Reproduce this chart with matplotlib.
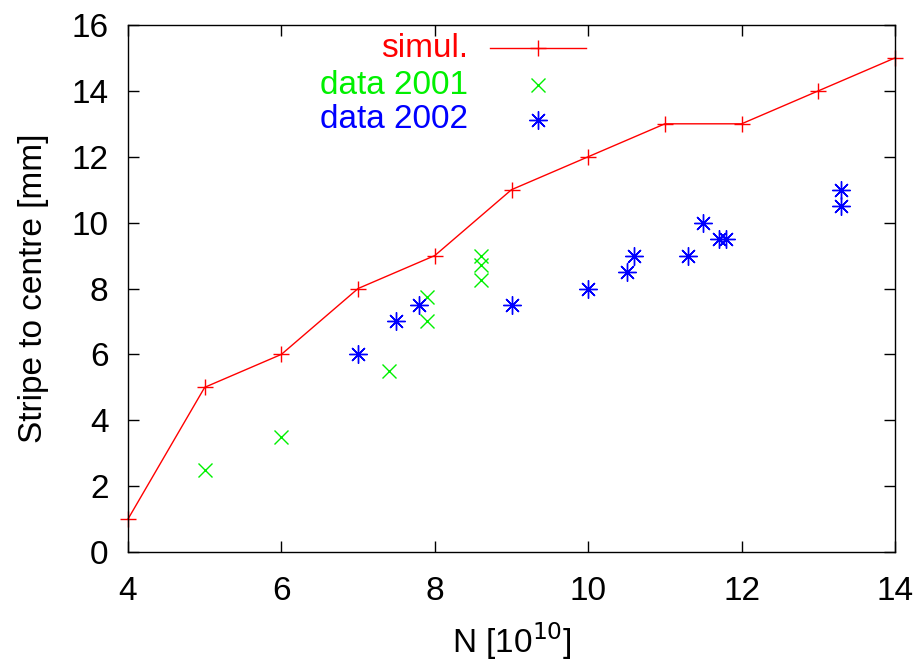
import matplotlib
matplotlib.use("Agg")
import matplotlib.pyplot as plt
from matplotlib.lines import Line2D

plt.rcParams['font.family'] = ['Liberation Sans', 'DejaVu Sans']

sim_x = [4, 5, 6, 7, 8, 9, 10, 11, 12, 13, 14]
sim_y = [1, 5, 6, 8, 9, 11, 12, 13, 13, 14, 15]

d2001_x = [5, 6, 7.4, 7.9, 7.9, 8.6, 8.6, 8.6]
d2001_y = [2.5, 3.5, 5.5, 7.0, 7.75, 8.25, 8.7, 9.0]

d2002_x = [7.0, 7.5, 7.8, 9.0, 10.0, 10.5, 10.6, 11.3, 11.5, 11.7, 11.8, 13.3, 13.3]
d2002_y = [6.0, 7.0, 7.5, 7.5, 8.0, 8.5, 9.0, 9.0, 10.0, 9.5, 9.5, 10.5, 11.0]

xticks = [4, 6, 8, 10, 12, 14]
yticks = [0, 2, 4, 6, 8, 10, 12, 14, 16]

RED, GREEN, BLUE = '#ff0000', '#00f000', '#0000ff'
ast = (8, 2, 0)
FS = 24

fig = plt.figure(figsize=(9.16, 6.63), dpi=100)
ax = fig.add_axes([128/916, 1-552/663, (895-128)/916, (552-25)/663])

ax.plot(sim_x, sim_y, color=RED, lw=1.0, marker='+', ms=12, mew=1.0, clip_on=False)
ax.plot(d2001_x, d2001_y, ls='none', color=GREEN, marker='x', ms=10, mew=1.0)
ax.plot(d2002_x, d2002_y, ls='none', color=BLUE, marker=ast, ms=13, mew=1.0)

ax.set_xlim(4, 14)
ax.set_ylim(0, 16)
ax.set_xticks(xticks)
ax.set_yticks(yticks)
ax.tick_params(direction='in', length=8, width=1, top=True, right=True,
               labelsize=FS)
ax.tick_params(axis='x', pad=17)
ax.tick_params(axis='y', pad=14)
for s in ax.spines.values():
    s.set_linewidth(1.0)
ax.set_xlabel('N [10$^{10}$]', fontsize=FS, labelpad=10)
ax.set_ylabel('Stripe to centre [mm]', fontsize=FS, labelpad=16)

# legend (gnuplot style: right-aligned text, sample on the right)
rows = [('simul.', RED, 0.956), ('data 2001', GREEN, 0.886), ('data 2002', BLUE, 0.820)]
for label, c, yy in rows:
    ax.text(0.443, yy, label, color=c, fontsize=FS, ha='right', va='center',
            transform=ax.transAxes)
ax.add_line(Line2D([0.472, 0.597], [0.956, 0.956], color=RED, lw=1.0,
                   transform=ax.transAxes))
ax.add_line(Line2D([0.535], [0.956], color=RED, marker='+', ms=12, mew=1.0,
                   transform=ax.transAxes))
ax.add_line(Line2D([0.535], [0.886], color=GREEN, marker='x', ms=10, mew=1.0,
                   ls='none', transform=ax.transAxes))
ax.add_line(Line2D([0.535], [0.820], color=BLUE, marker=ast, ms=13, mew=1.0,
                   ls='none', transform=ax.transAxes))

fig.savefig('out.png', dpi=100)
